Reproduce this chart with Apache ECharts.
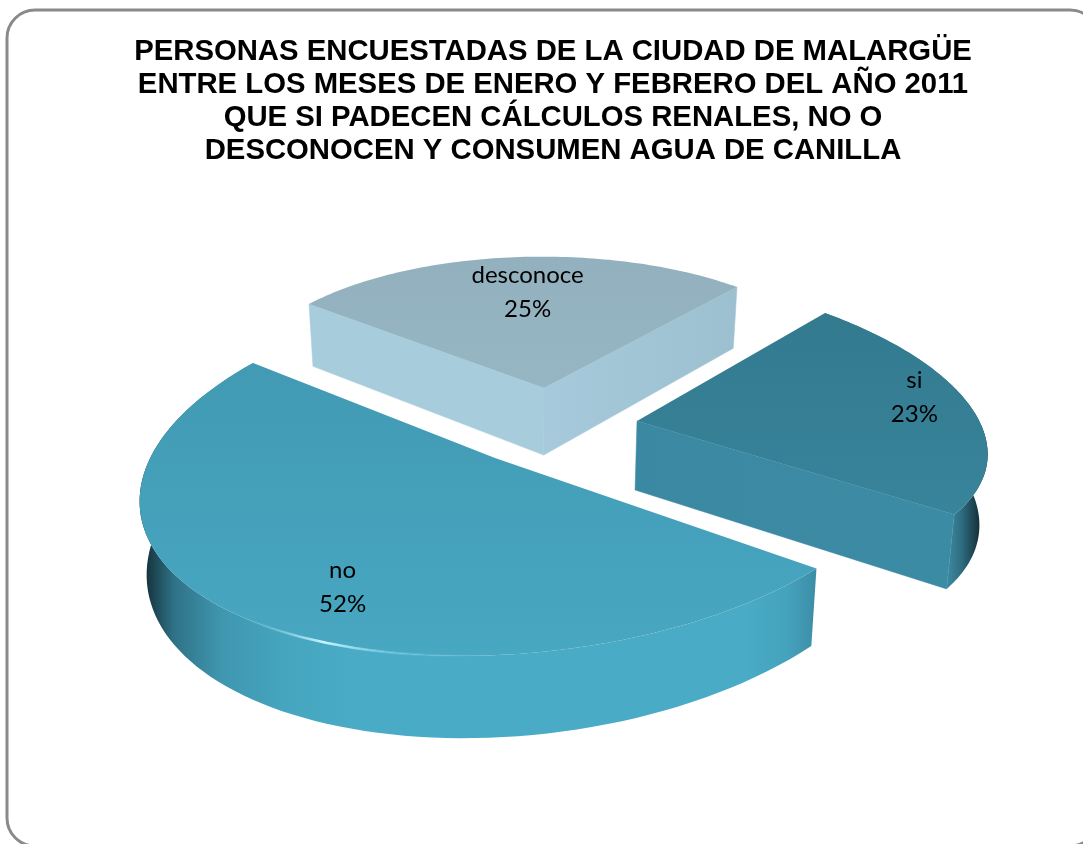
<!DOCTYPE html>
<html><head><meta charset="utf-8">
<style>html,body{margin:0;padding:0;background:#fff}#c{width:1083px;height:844px}</style>
<script src="https://cdn.jsdelivr.net/npm/echarts@6/dist/echarts.min.js"></script>
</head><body><div id="c"></div>
<script>
const categories = ['desconoce', 'si', 'no'];
const percentValues = [25, 23, 52];
const titleLines = [
  'PERSONAS ENCUESTADAS DE LA CIUDAD DE MALARGÜE',
  'ENTRE LOS MESES DE ENERO Y FEBRERO DEL AÑO 2011',
  'QUE SI PADECEN CÁLCULOS RENALES, NO O',
  'DESCONOCEN Y CONSUMEN AGUA DE CANILLA'
];

// Oblique projection of each exploded wedge: apex, two basis vectors of the unit disc
// (screen px, y down), a perspective weight and the label anchor inside the wedge.
const wedgeViews = {
  desconoce: { apex: [544, 388], g: [-235, -84], f: [193, -101], w: 0, sweepK: 1, label: [0.515, 0.728],
    top: ['#92b0bd', '#97b6c3'], startWall: '#a7ccdc', endWall: ['#a6cadb', '#9cc0cf'] },
  si: { apex: [637, 421], g: [188, -108], f: [296, 108], w: 0, sweepK: 1, label: [0.42, 0.858],
    top: ['#337a8f', '#38849b'], endWall: ['#3b88a2', '#3c8ba5'],
    strip: [[947, 988], [[0, '#3c8aa3'], [0.35, '#2f6d81'], [0.75, '#173640'], [1, '#0b181d']]] },
  no: { apex: [495, 458], g: [-270, -106], f: [-272, 150], w: 0.116, sweepK: 0.978, label: [0.565, 0.735],
    top: ['#429ab4', '#48a7c1'],
    strip: [[140, 815], [[0, '#0c1a20'], [0.012, '#173843'], [0.05, '#2f7287'], [0.12, '#3f96af'], [0.22, '#46a6c0'], [0.32, '#49abc6'], [0.9, '#49abc6'], [0.96, '#45a2bc'], [1, '#3d8ea7']]],
    glint: [0.37, 0.86] }
};

function drop(p) {
  return [p[0] + (530 - p[0]) * 0.018, p[1] + 45 + 0.057 * p[1]];
}
function pointAt(v, u, rho) {
  const c = Math.cos(u), s = Math.sin(u), d = 1 + v.w * c;
  return [v.apex[0] + rho * (c * v.g[0] + s * v.f[0]) / d,
          v.apex[1] + rho * (c * v.g[1] + s * v.f[1]) / d];
}
function renderWedge(params, api) {
  const name = categories[params.dataIndex];
  const value = api.value(0);
  const v = wedgeViews[name];
  const sweep = value / 100 * 2 * Math.PI * v.sweepK;
  const arc = [];
  for (let i = 0; i <= 90; i++) arc.push(pointAt(v, sweep * i / 90, 1));
  const first = arc[0], last = arc[arc.length - 1];
  const kids = [];
  const quad = (a, b, fill) => kids.push({ type: 'polygon', shape: { points: [a, b, drop(b), drop(a)] },
    style: { fill: fill, stroke: fill, lineWidth: 0.5 } });
  const vGrad = c => ({ type: 'linear', x: 0, y: 0, x2: 0, y2: 1, colorStops: [{ offset: 0, color: c[0] }, { offset: 1, color: c[1] }] });
  const hGrad = c => ({ type: 'linear', x: 0, y: 0, x2: 1, y2: 0, colorStops: [{ offset: 0, color: c[0] }, { offset: 1, color: c[1] }] });
  if (v.strip) {
    kids.push({ type: 'polygon', shape: { points: arc.concat(arc.map(drop).reverse()) },
      style: { fill: { type: 'linear', global: true, x: v.strip[0][0], y: 0, x2: v.strip[0][1], y2: 0,
        colorStops: v.strip[1].map(s => ({ offset: s[0], color: s[1] })) } } });
  }
  if (v.startWall) quad(v.apex, first, v.startWall);
  if (v.endWall) quad(v.apex, last, hGrad(v.endWall));
  kids.push({ type: 'polygon', shape: { points: [v.apex].concat(arc) }, style: { fill: vGrad(v.top) } });
  if (v.glint) {
    const a = v.glint[0] * sweep, b = v.glint[1] * sweep, pts = [];
    for (let i = 0; i <= 40; i++) pts.push(pointAt(v, a + (b - a) * i / 40, 1));
    kids.push({ type: 'polyline', shape: { points: pts }, style: { fill: null, lineWidth: 2.5,
      stroke: { type: 'linear', global: true, x: 240, y: 0, x2: 480, y2: 0, colorStops: [
        { offset: 0, color: 'rgba(90,190,215,0)' }, { offset: 0.35, color: 'rgba(200,245,252,1)' },
        { offset: 0.6, color: 'rgba(130,215,235,0.55)' }, { offset: 1, color: 'rgba(90,190,215,0)' }] } } });
  }
  const lab = pointAt(v, sweep * v.label[0], v.label[1]);
  const txt = (t, y) => kids.push({ type: 'text', style: { text: t, x: lab[0], y: y, textAlign: 'center',
    textVerticalAlign: 'middle', fontFamily: 'Lato', fontSize: 24, fill: '#000' } });
  txt(name, lab[1] - 17);
  txt(value + '%', lab[1] + 17);
  return { type: 'group', children: kids };
}

const chart = echarts.init(document.getElementById('c'), null, { renderer: 'canvas' });
chart.setOption({
  animation: false,
  backgroundColor: '#fff',
  title: {
    text: titleLines.join('\n'), left: 548, top: 30, textAlign: 'center',
    textStyle: { fontFamily: 'Liberation Sans', fontWeight: 'bold', fontSize: 29.3, lineHeight: 33, color: '#000' }
  },
  graphic: [{ type: 'rect', z: -1, shape: { x: 7, y: 10, width: 1091, height: 836, r: 28 },
    style: { fill: '#fff', stroke: '#8a8a8a', lineWidth: 3 } }],
  series: [{ type: 'custom', coordinateSystem: 'none', renderItem: renderWedge, data: percentValues.map(v => [v]) }]
});
</script></body></html>
